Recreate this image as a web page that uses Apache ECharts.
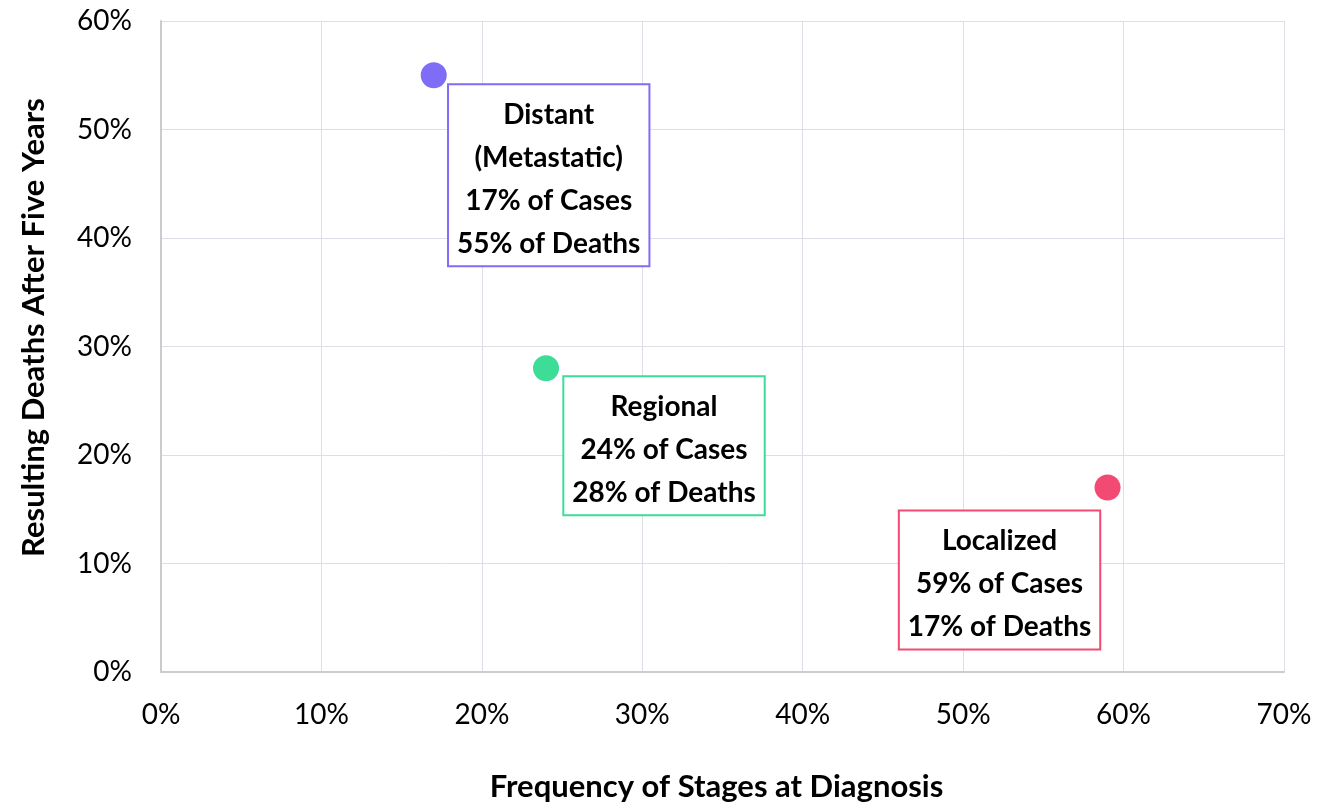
<!DOCTYPE html>
<html>
<head>
<meta charset="utf-8">
<script src="https://cdn.jsdelivr.net/npm/echarts@6/dist/echarts.min.js"></script>
<style>
  html, body { margin: 0; padding: 0; background: #ffffff; }
  #chart { width: 1337px; height: 802px; }
</style>
</head>
<body>
<div id="chart"></div>
<script>
// Cancer stage at diagnosis: share of cases vs. share of deaths after five years
const stageNames = ['Distant\n(Metastatic)', 'Regional', 'Localized'];
const casesPct = [17, 24, 59];
const deathsPct = [55, 28, 17];
const stageColors = ['#7f6cf7', '#3ddc97', '#f24a72'];
// label box placement relative to each marker
const labelPos = [[128, 23], [131, 22], [-95, 37]];

const xTicks = { min: 0, max: 70, interval: 10 };
const yTicks = { min: 0, max: 60, interval: 10 };

const FONT = 'Lato, "Open Sans", sans-serif';

const points = stageNames.map((name, i) => ({
  name: name,
  value: [casesPct[i], deathsPct[i]],
  itemStyle: { color: stageColors[i], opacity: 1 },
  label: {
    show: true,
    position: labelPos[i],
    align: 'center',
    verticalAlign: 'top',
    formatter: p => `${p.name}\n${p.value[0]}% of Cases\n${p.value[1]}% of Deaths`,
    color: '#000000',
    fontFamily: FONT,
    fontWeight: 'bold',
    fontSize: 28,
    lineHeight: 43,
    backgroundColor: '#ffffff',
    borderColor: stageColors[i],
    borderWidth: 2,
    padding: [8, 8, 0, 8]
  }
}));

const chart = echarts.init(document.getElementById('chart'), null, { renderer: 'canvas' });
chart.setOption({
  animation: false,
  backgroundColor: '#ffffff',
  grid: { left: 161, right: 53, top: 21, bottom: 130, containLabel: false, outerBoundsMode: 'none' },
  xAxis: {
    type: 'value',
    min: xTicks.min, max: xTicks.max, interval: xTicks.interval,
    name: 'Frequency of Stages at Diagnosis',
    nameLocation: 'middle',
    nameGap: 99,
    nameTextStyle: { fontFamily: FONT, fontWeight: 'bold', fontSize: 31, color: '#000000', padding: [0, 12, 0, 0] },
    axisLine: { show: true, lineStyle: { color: '#cccccc', width: 2 } },
    axisTick: { show: false },
    axisLabel: { formatter: '{value}%', fontFamily: FONT, fontSize: 28, color: '#000000', margin: 29 },
    splitLine: { show: true, lineStyle: { color: '#dedee6', width: 1 } }
  },
  yAxis: {
    type: 'value',
    min: yTicks.min, max: yTicks.max, interval: yTicks.interval,
    name: 'Resulting Deaths After Five Years',
    nameLocation: 'middle',
    nameGap: 112,
    nameTextStyle: { fontFamily: FONT, fontWeight: 'bold', fontSize: 31, color: '#000000', padding: [0, 0, 0, 38] },
    axisLine: { show: true, lineStyle: { color: '#cccccc', width: 2 } },
    axisTick: { show: false },
    axisLabel: { formatter: '{value}%', fontFamily: FONT, fontSize: 28, color: '#000000', margin: 29 },
    splitLine: { show: true, lineStyle: { color: '#dedee6', width: 1 } }
  },
  series: [{
    type: 'scatter',
    symbol: 'circle',
    symbolSize: 26,
    data: points,
    labelLayout: { hideOverlap: false }
  }]
});
</script>
</body>
</html>
